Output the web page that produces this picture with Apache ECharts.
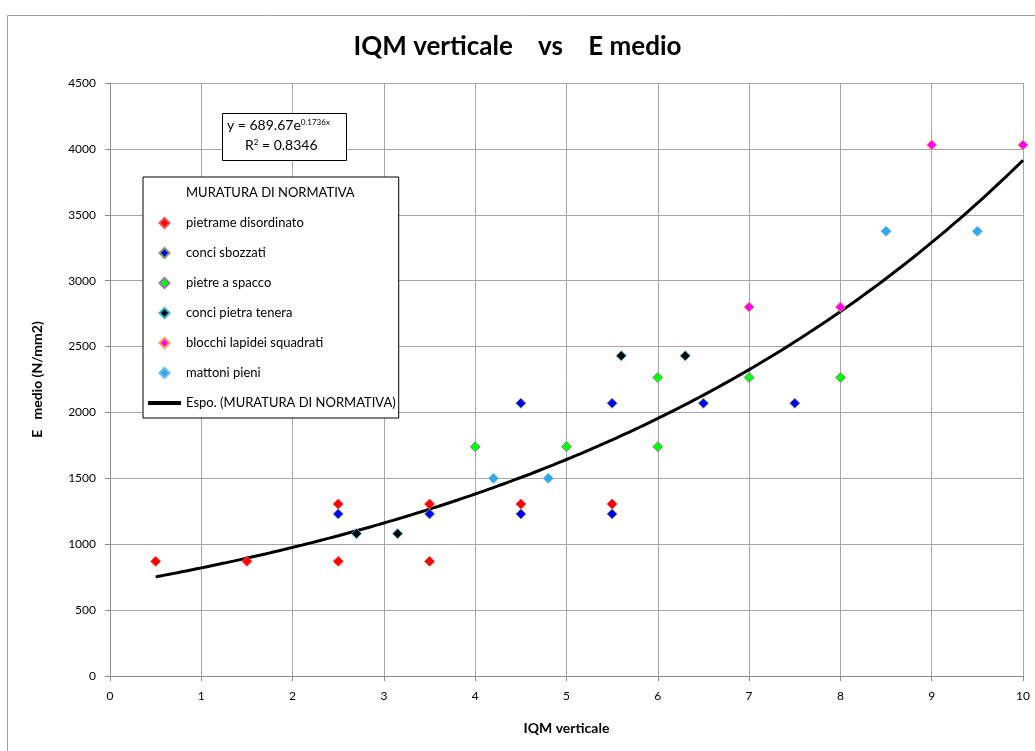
<!DOCTYPE html>
<html>
<head>
<meta charset="utf-8">
<script src="https://cdn.jsdelivr.net/npm/echarts@6/dist/echarts.min.js"></script>
<style>html,body{margin:0;padding:0;background:#fff}#c{width:1035px;height:751px}</style>
</head>
<body>
<div id="c"></div>
<script>
// ---- data (x = IQM verticale, y = E medio N/mm2) ----
var pietrameDisordinato = [[0.5, 870], [1.5, 870], [2.5, 870], [2.5, 1305], [3.5, 1305], [3.5, 870], [4.5, 1305], [5.5, 1305]];
var conciSbozzati = [[2.5, 1230], [3.5, 1230], [4.5, 1230], [4.5, 2070], [5.5, 1230], [5.5, 2070], [6.5, 2070], [7.5, 2070]];
var pietreASpacco = [[4, 1740], [5, 1740], [6, 1740], [6, 2265], [7, 2265], [8, 2265]];
var conciPietraTenera = [[2.7, 1080], [3.15, 1080], [5.6, 2430], [6.3, 2430]];
var blocchiLapidei = [[7, 2800], [8, 2800], [9, 4030], [10, 4030]];
var mattoniPieni = [[4.2, 1500], [4.8, 1500], [8.5, 3375], [9.5, 3375]];
// trendline coefficients as printed on the chart: y = a * e^(b x)
var trendA = 689.67;
var trendB = 0.1736;
var trendXRange = [0.5, 10];
var xTicks = [0, 1, 2, 3, 4, 5, 6, 7, 8, 9, 10];
var yTicks = [0, 500, 1000, 1500, 2000, 2500, 3000, 3500, 4000, 4500];

var trend = [];
for (var i = 0; i <= 190; i++) {
  var x = trendXRange[0] + (trendXRange[1] - trendXRange[0]) * i / 190;
  trend.push([x, trendA * Math.exp(trendB * x)]);
}

var FONT = 'Lato, "Open Sans", sans-serif';
var DIAMOND = 'path://M5,0 L10,5 L5,10 L0,5 Z';

function sc(name, data, fill, border) {
  return {
    name: name, type: 'scatter', data: data, symbol: 'diamond', symbolSize: 10, z: 5,
    itemStyle: { color: fill, borderColor: border, borderWidth: 1, opacity: 1 }
  };
}

var chart = echarts.init(document.getElementById('c'), null, { renderer: 'canvas' });
chart.setOption({
  backgroundColor: '#fff',
  animation: false,
  title: {
    text: 'IQM verticale    vs    E medio',
    left: 'center', top: 29,
    textStyle: { fontFamily: FONT, fontSize: 26, fontWeight: 'bold', color: '#000' }
  },
  grid: { left: 110, right: 12, top: 83, bottom: 75 },
  xAxis: {
    type: 'value', min: 0, max: 10, interval: 1,
    name: 'IQM verticale', nameLocation: 'middle', nameGap: 45,
    nameTextStyle: { fontFamily: FONT, fontSize: 14, fontWeight: 'bold', color: '#000' },
    axisLine: { show: true, onZero: false, lineStyle: { color: '#8c8c8c', width: 1 } },
    axisTick: { show: true, length: 5, lineStyle: { color: '#8c8c8c' } },
    axisLabel: { fontFamily: FONT, fontSize: 12, color: '#000', margin: 14,
      formatter: function (v) { return xTicks.indexOf(v) >= 0 ? String(v) : ''; } },
    splitLine: { show: true, lineStyle: { color: '#a6a6a6', width: 1 } }
  },
  yAxis: {
    type: 'value', min: 0, max: 4500, interval: 500,
    name: 'E   medio (N/mm2)', nameLocation: 'middle', nameGap: 66, nameRotate: 90,
    nameTextStyle: { fontFamily: FONT, fontSize: 14, fontWeight: 'bold', color: '#000' },
    axisLine: { show: true, lineStyle: { color: '#8c8c8c', width: 1 } },
    axisTick: { show: true, length: 5, lineStyle: { color: '#8c8c8c' } },
    axisLabel: { fontFamily: FONT, fontSize: 12, color: '#000', margin: 14,
      formatter: function (v) { return yTicks.indexOf(v) >= 0 ? String(v) : ''; } },
    splitLine: { show: true, lineStyle: { color: '#a6a6a6', width: 1 } }
  },
  legend: {
    orient: 'vertical', left: 143, top: 177,
    backgroundColor: '#fff', borderColor: '#000', borderWidth: 1,
    padding: [9, 3, 8, 5],
    itemWidth: 33, itemHeight: 10, itemGap: 16,
    symbolKeepAspect: true,
    textStyle: { fontFamily: FONT, fontSize: 13, color: '#000', lineHeight: 14 },
    data: [
      { name: 'MURATURA DI NORMATIVA', icon: 'none' },
      { name: 'pietrame disordinato', icon: DIAMOND },
      { name: 'conci sbozzati', icon: DIAMOND },
      { name: 'pietre a spacco', icon: DIAMOND },
      { name: 'conci pietra tenera', icon: DIAMOND },
      { name: 'blocchi lapidei squadrati', icon: DIAMOND },
      { name: 'mattoni pieni', icon: DIAMOND },
      { name: 'Espo. (MURATURA DI NORMATIVA)', icon: 'path://M0,0 L33,0 L33,4 L0,4 Z', itemStyle: { color: '#000' } }
    ],
    selectedMode: false
  },
  series: [
    { name: 'MURATURA DI NORMATIVA', type: 'scatter', data: [], symbolSize: 0 },
    sc('pietrame disordinato', pietrameDisordinato, '#ff0000', '#f05050'),
    sc('conci sbozzati', conciSbozzati, '#0000ff', '#7f9a5a'),
    sc('pietre a spacco', pietreASpacco, '#00ff00', '#8a80a0'),
    sc('conci pietra tenera', conciPietraTenera, '#000000', '#35b2cc'),
    sc('blocchi lapidei squadrati', blocchiLapidei, '#ff00ff', '#ff9a50'),
    sc('mattoni pieni', mattoniPieni, '#33a6e8', '#66bdf0'),
    {
      name: 'Espo. (MURATURA DI NORMATIVA)', type: 'line', data: trend, symbol: 'none', z: 4,
      lineStyle: { color: '#000', width: 3 }, itemStyle: { color: '#000' }
    }
  ],
  graphic: [
    { type: 'rect', left: 5, top: 13, z: -10, silent: true,
      shape: { width: 1100, height: 800 }, style: { fill: 'none', stroke: '#a0a0a0', lineWidth: 1 } },
    { type: 'rect', left: 222, top: 113, z: 50,
      shape: { width: 124, height: 47 }, style: { fill: '#fff', stroke: '#000', lineWidth: 1 } },
    { type: 'text', left: 227, top: 118, z: 51,
      style: { text: 'y = 689.67e{s|0.1736x}', fontFamily: FONT, fontSize: 14, fill: '#000',
        rich: { s: { fontSize: 8, verticalAlign: 'top', fontFamily: FONT, padding: [0, 0, 7, 0] } } } },
    { type: 'text', left: 245, top: 138, z: 51,
      style: { text: 'R{s|2} = 0.8346', fontFamily: FONT, fontSize: 14, fill: '#000',
        rich: { s: { fontSize: 8, fontFamily: FONT, padding: [0, 0, 7, 0] } } } }
  ]
});
</script>
</body>
</html>
